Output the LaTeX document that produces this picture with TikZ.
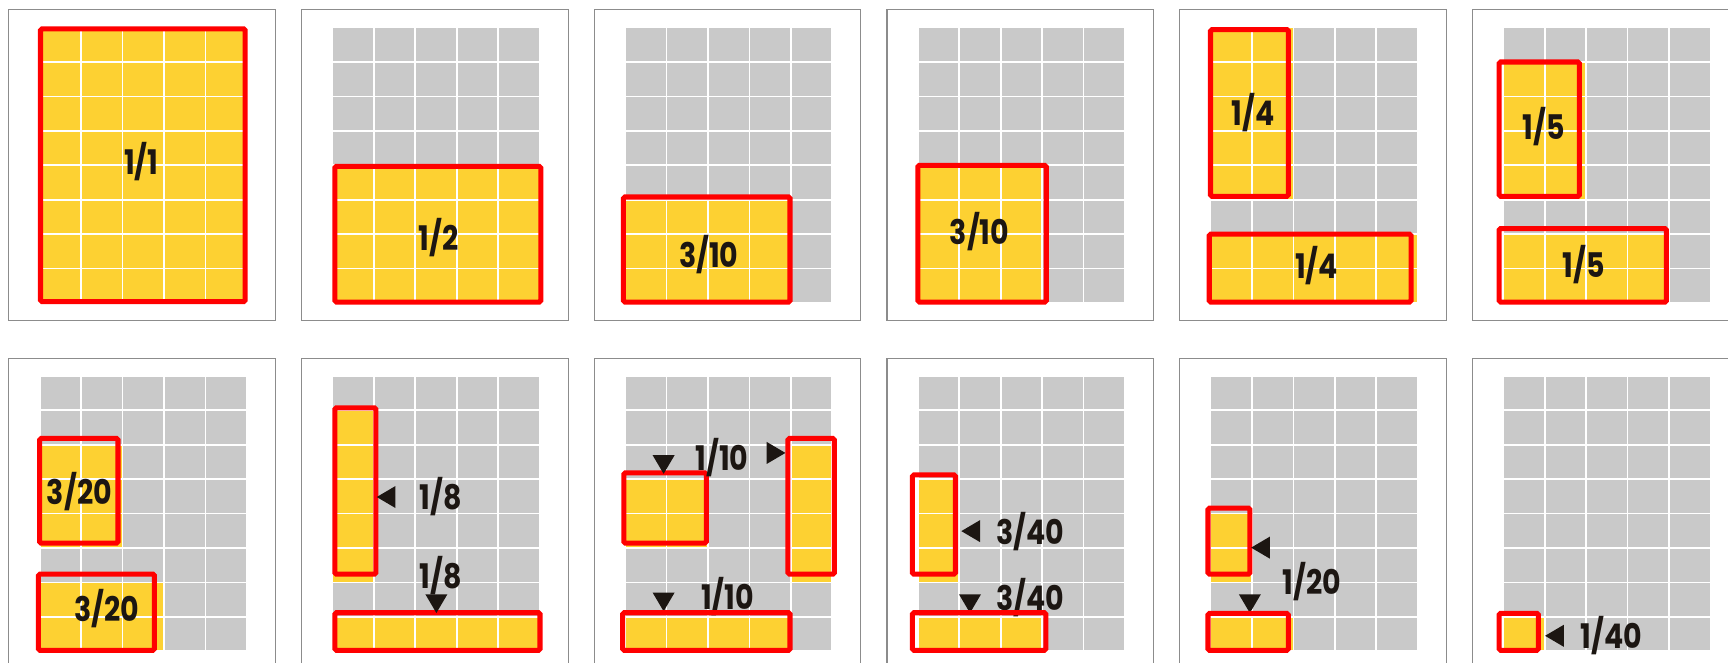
\documentclass[tikz,border=0pt]{standalone}
\usepackage{fontspec}
\newfontfamily\fracfont{Poppins}[UprightFont=* Bold,FakeStretch=0.84]
\definecolor{cellgrey}{HTML}{C9C9C9}
\definecolor{cellyellow}{HTML}{FDD132}
\definecolor{boxred}{HTML}{FF0000}
\definecolor{framegrey}{HTML}{8C8C8C}
\definecolor{inkblack}{HTML}{1C1612}
% fill cells #2..#4 (columns) x #3..#5 (rows) with colour #1
\newcommand{\fillcells}[5]{%
  \foreach \i in {#2,...,#4} \foreach \j in {#3,...,#5}
    \filldraw[fill=#1,draw=white,line width=0.9pt] (\i,\j) rectangle +(1,1);}
\tikzset{
  panelat/.style 2 args={shift={(0.72+5.312*#1,-0.5-6.32*#2)},x=0.752cm,y=-0.625cm},
  frac/.style={font=\fracfont\fontsize{17.5}{17.5}\selectfont,text=inkblack,inner sep=0pt},
  redbox/.style={draw=boxred,line width=2.6pt,rounded corners=0.8pt},
  tri/.pic={\fill[inkblack] (0.18cm,0) -- (-0.16cm,0.2cm) -- (-0.16cm,-0.2cm) -- cycle;}
}
\begin{document}
\begin{tikzpicture}
  \useasboundingbox (0,-12.02) rectangle (31.36,0);
  \clip (0,-12.02) rectangle (31.36,0);
  % frames and grey grids
  \foreach \r in {0,1} \foreach \c in {0,...,5} {
    \begin{scope}[panelat={\c}{\r}]
      \draw[framegrey,line width=0.6pt] (-0.745,-0.512) rectangle (5.69,8.512);
      \fillcells{cellgrey}{0}{0}{4}{7}
    \end{scope}
  }
  % 1/1
  \begin{scope}[panelat={0}{0}]
    \fillcells{cellyellow}{0}{0}{4}{7}
    \draw[redbox] (0.02,0.04) rectangle (4.96,7.96);
    \node[frac] (l1) at (2.45,3.9) {1/1};
  \end{scope}
  % 1/2
  \begin{scope}[panelat={1}{0}]
    \fillcells{cellyellow}{0}{4}{4}{7}
    \draw[redbox] (0.06,4.03) rectangle (5.03,7.97);
    \node[frac] (l2) at (2.57,6.1) {1/2};
  \end{scope}
  % 3/10
  \begin{scope}[panelat={2}{0}]
    \fillcells{cellyellow}{0}{5}{3}{7}
    \draw[redbox] (-0.04,4.92) rectangle (3.98,7.97);
    \node[frac] (l3) at (2.02,6.59) {3/10};
  \end{scope}
  \begin{scope}[panelat={3}{0}]
    \fillcells{cellyellow}{0}{4}{2}{7}
    \draw[redbox] (0,4.0) rectangle (3.1,7.97);
    \node[frac] (l4) at (1.49,5.92) {3/10};
  \end{scope}
  % 1/4
  \begin{scope}[panelat={4}{0}]
    \fillcells{cellyellow}{0}{0}{1}{4}
    \fillcells{cellyellow}{0}{6}{4}{7}
    \draw[redbox] (0,0.06) rectangle (1.88,4.9);
    \node[frac] (l5a) at (1.03,2.46) {1/4};
    \draw[redbox] (-0.03,6.0) rectangle (4.84,7.97);
    \node[frac] (l5b) at (2.56,6.9) {1/4};
  \end{scope}
  % 1/5
  \begin{scope}[panelat={5}{0}]
    \fillcells{cellyellow}{0}{1}{1}{4}
    \fillcells{cellyellow}{0}{6}{3}{7}
    \draw[redbox] (-0.1,1) rectangle (1.84,4.9);
    \node[frac] (l6a) at (0.98,2.88) {1/5};
    \draw[redbox] (-0.1,5.84) rectangle (3.94,7.97);
    \node[frac] (l6b) at (1.94,6.88) {1/5};
  \end{scope}
  % 3/20
  \begin{scope}[panelat={0}{1}]
    \fillcells{cellyellow}{0}{2}{1}{4}
    \fillcells{cellyellow}{0}{6}{2}{7}
    \draw[redbox] (0,1.82) rectangle (1.89,4.86);
    \node[frac] (l7a) at (0.96,3.36) {3/20};
    \draw[redbox] (-0.03,5.76) rectangle (2.77,7.97);
    \node[frac] (l7b) at (1.62,6.75) {3/20};
  \end{scope}
  % 1/8
  \begin{scope}[panelat={1}{1}]
    \fillcells{cellyellow}{0}{1}{0}{5}
    \fillcells{cellyellow}{0}{7}{4}{7}
    \draw[redbox] (0.06,0.93) rectangle (1.05,5.76);
    \pic[rotate=180] at (1.31,3.52) {tri};
    \node[frac] (l8a) at (2.62,3.52) {1/8};
    \draw[redbox] (0.06,6.88) rectangle (5.01,7.97);
    \node[frac] (l8b) at (2.62,5.8) {1/8};
    \pic[rotate=-90] at (2.51,6.6) {tri};
  \end{scope}
  % 1/10
  \begin{scope}[panelat={2}{1}]
    \fillcells{cellyellow}{0}{3}{1}{4}
    \fillcells{cellyellow}{4}{2}{4}{5}
    \fillcells{cellyellow}{0}{7}{3}{7}
    \draw[redbox] (-0.03,2.82) rectangle (1.96,4.86);
    \pic[rotate=-90] at (0.93,2.56) {tri};
    \node[frac] (l9a) at (2.34,2.37) {1/10};
    \pic at (3.63,2.24) {tri};
    \draw[redbox] (3.93,1.82) rectangle (5.05,5.76);
    \pic[rotate=-90] at (0.93,6.55) {tri};
    \node[frac] (l9b) at (2.47,6.4) {1/10};
    \draw[redbox] (-0.06,6.88) rectangle (3.98,7.97);
  \end{scope}
  % 3/40
  \begin{scope}[panelat={3}{1}]
    \fillcells{cellyellow}{0}{3}{0}{5}
    \fillcells{cellyellow}{0}{7}{2}{7}
    \draw[redbox] (-0.13,2.88) rectangle (0.91,5.76);
    \pic[rotate=180] at (1.29,4.51) {tri};
    \node[frac] (l10a) at (2.72,4.51) {3/40};
    \pic[rotate=-90] at (1.26,6.6) {tri};
    \node[frac] (l10b) at (2.72,6.44) {3/40};
    \draw[redbox] (-0.13,6.88) rectangle (3.09,7.97);
  \end{scope}
  % 1/20
  \begin{scope}[panelat={4}{1}]
    \fillcells{cellyellow}{0}{4}{0}{5}
    \fillcells{cellyellow}{0}{7}{1}{7}
    \draw[redbox] (-0.06,3.84) rectangle (0.95,5.76);
    \pic[rotate=180] at (1.22,4.99) {tri};
    \node[frac] (l11) at (2.44,5.98) {1/20};
    \pic[rotate=-90] at (0.95,6.6) {tri};
    \draw[redbox] (-0.06,6.9) rectangle (1.88,7.97);
  \end{scope}
  % 1/40
  \begin{scope}[panelat={5}{1}]
    \fillcells{cellyellow}{0}{7}{0}{7}
    \draw[redbox] (-0.1,6.9) rectangle (0.85,7.97);
    \pic[rotate=180] at (1.25,7.55) {tri};
    \node[frac] (l12) at (2.61,7.55) {1/40};
  \end{scope}
\end{tikzpicture}
\end{document}
